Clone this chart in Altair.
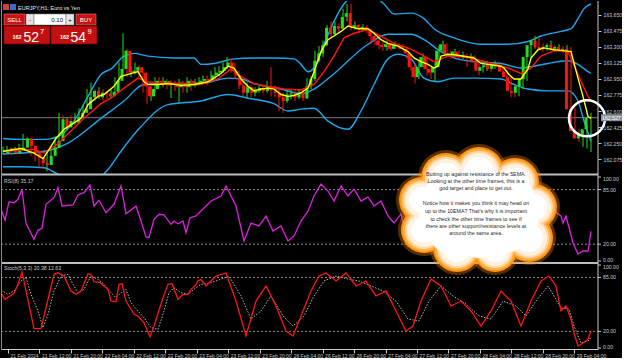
import altair as alt
import pandas as pd

# ---------------- data ----------------
close = [162.16, 162.19, 162.14, 162.17, 162.20, 162.30, 162.22, 162.14, 162.09, 162.03,
         162.01, 162.11, 162.20, 162.27, 162.51, 162.42, 162.49, 162.47, 162.53, 162.58,
         162.62, 162.75, 162.82, 162.75, 162.80, 162.79, 162.76, 162.81, 162.93, 163.06,
         163.26, 163.02, 163.04, 163.08, 163.02, 162.87, 162.76, 162.84, 162.93, 162.91,
         162.93, 162.88, 162.88, 162.86, 162.91, 162.86, 162.93, 162.88, 162.91, 162.93,
         162.95, 162.93, 162.99, 163.02, 163.04, 163.08, 163.13, 163.04, 162.99, 162.88,
         162.80, 162.86, 162.80, 162.82, 162.85, 162.82, 162.86, 162.84, 162.80, 162.75,
         162.71, 162.78, 162.79, 162.75, 162.80, 162.74, 162.87, 162.95, 163.15, 163.23,
         163.32, 163.51, 163.44, 163.53, 163.50, 163.63, 163.67, 163.52, 163.54, 163.50,
         163.52, 163.49, 163.42, 163.37, 163.32, 163.30, 163.33, 163.28, 163.32, 163.31,
         163.28, 163.23, 163.08, 162.97, 163.08, 163.19, 163.06, 163.02, 163.08, 163.26,
         163.33, 163.23, 163.21, 163.25, 163.20, 163.21, 163.18, 163.20, 163.13, 163.04,
         163.08, 163.10, 163.06, 163.11, 163.09, 163.03, 162.97, 162.82, 162.80, 162.87,
         162.95, 163.19, 163.32, 163.37, 163.30, 163.28, 163.30, 163.32, 163.28, 163.30,
         163.27, 163.28, 162.62, 162.38, 162.30, 162.35, 162.40, 162.527]
high = [162.21, 162.22, 162.20, 162.21, 162.24, 162.35, 162.32, 162.24, 162.16, 162.11,
        162.05, 162.14, 162.22, 162.32, 162.58, 162.55, 162.53, 162.55, 162.58, 162.63,
        162.67, 162.84, 162.91, 162.84, 162.86, 162.84, 162.82, 162.84, 162.97, 163.13,
        163.45, 163.28, 163.09, 163.13, 163.10, 163.06, 162.93, 162.87, 162.97, 162.97,
        162.97, 162.95, 162.93, 162.93, 162.95, 162.93, 162.97, 162.95, 162.95, 162.97,
        162.99, 162.99, 163.04, 163.08, 163.09, 163.13, 163.19, 163.17, 163.13, 163.04,
        162.93, 162.91, 162.88, 162.86, 162.88, 162.88, 162.93, 163.08, 162.88, 162.84,
        162.80, 162.82, 162.84, 162.82, 162.84, 162.84, 162.96, 162.98, 163.26, 163.31,
        163.37, 163.54, 163.58, 163.58, 163.56, 163.72, 163.77, 163.77, 163.58, 163.55,
        163.55, 163.54, 163.50, 163.44, 163.39, 163.36, 163.37, 163.34, 163.36, 163.34,
        163.33, 163.30, 163.23, 163.13, 163.15, 163.23, 163.19, 163.08, 163.13, 163.31,
        163.37, 163.34, 163.26, 163.28, 163.26, 163.25, 163.23, 163.23, 163.21, 163.14,
        163.11, 163.15, 163.13, 163.15, 163.14, 163.09, 163.05, 162.97, 162.88, 162.93,
        162.99, 163.23, 163.37, 163.42, 163.40, 163.34, 163.34, 163.37, 163.32, 163.33,
        163.31, 163.32, 163.30, 162.64, 162.40, 162.38, 162.44, 162.58]
low = [162.12, 162.14, 162.12, 162.13, 162.15, 162.19, 162.20, 162.11, 162.05, 161.99,
       161.97, 161.94, 162.09, 162.17, 162.25, 162.39, 162.40, 162.44, 162.45, 162.50,
       162.55, 162.60, 162.71, 162.71, 162.73, 162.71, 162.73, 162.74, 162.80, 162.91,
       163.04, 162.97, 162.97, 163.00, 162.97, 162.80, 162.68, 162.71, 162.80, 162.86,
       162.86, 162.84, 162.74, 162.82, 162.69, 162.80, 162.80, 162.82, 162.86, 162.88,
       162.91, 162.88, 162.93, 162.95, 162.98, 163.02, 163.06, 163.02, 162.95, 162.84,
       162.76, 162.75, 162.75, 162.76, 162.80, 162.79, 162.80, 162.76, 162.75, 162.60,
       162.58, 162.69, 162.73, 162.71, 162.73, 162.71, 162.73, 162.84, 162.93, 163.13,
       163.19, 163.31, 163.40, 163.42, 163.45, 163.50, 163.58, 163.48, 163.49, 163.46,
       163.48, 163.45, 163.33, 163.32, 163.28, 163.26, 163.26, 163.26, 163.28, 163.27,
       163.26, 163.17, 163.04, 162.90, 162.95, 163.08, 162.99, 162.95, 162.93, 163.08,
       163.23, 163.19, 163.17, 163.19, 163.17, 163.17, 163.08, 163.15, 163.08, 162.99,
       163.02, 163.04, 163.03, 163.06, 163.05, 163.00, 162.93, 162.75, 162.75, 162.76,
       162.84, 162.93, 163.17, 163.28, 163.28, 163.25, 163.26, 163.27, 163.25, 163.26,
       163.23, 163.25, 162.58, 162.30, 162.26, 162.21, 162.19, 162.15]
first_open = 162.14

yellow_i = [0, 4.5, 7.75, 10, 11.25, 13.25, 15.25, 17.75, 19.5, 21.25, 23.75, 25.25, 27.75, 29.5, 31.25,
            33.75, 35.25, 36.25, 38.75, 41.25, 44.5, 47.75, 51.25, 54.5, 56.25, 57.75, 59.5, 61.25, 62.75,
            64.5, 66.25, 67.75, 69.5, 71.25, 72.75, 74.5, 76.25, 77.75, 79.5, 81.25, 82.75, 84.5, 86.25,
            88.75, 91.25, 92.75, 94.5, 96.25, 98.75, 101.25, 102.75, 104.5, 106.25, 107.75, 108.75, 109.5,
            111.25, 113.75, 116.25, 117.75, 119.5, 121.25, 122.75, 124.5, 125.25, 126.5, 127.75, 129.5,
            131.25, 132, 133.75, 135.25, 137.75, 140.25, 142, 143.75, 145, 146.25, 147]
yellow_p = [162.16, 162.19, 162.14, 162.08, 162.16, 162.30, 162.40, 162.47, 162.52, 162.67, 162.76, 162.78,
            162.87, 162.98, 163.00, 163.03, 162.92, 162.89, 162.89, 162.90, 162.88, 162.89, 162.92, 163.01,
            163.09, 163.07, 162.95, 162.87, 162.82, 162.84, 162.85, 162.84, 162.78, 162.76, 162.77, 162.80,
            162.85, 163.03, 163.25, 163.38, 163.42, 163.47, 163.53, 163.50, 163.50, 163.45, 163.38, 163.34,
            163.31, 163.25, 163.18, 163.14, 163.11, 163.07, 163.09, 163.20, 163.22, 163.21, 163.19, 163.18,
            163.12, 163.11, 163.10, 163.09, 163.07, 163.00, 162.95, 162.95, 163.06, 163.18, 163.27, 163.29,
            163.27, 163.26, 163.25, 162.96, 162.76, 162.54, 162.52]
red_i = [0, 7.75, 10.25, 13.75, 16.25, 20.25, 24.5, 27, 30.25, 33.75, 36.25, 39.5, 43.75, 49.5, 53.75, 57,
         59.5, 62.75, 66.25, 70.25, 74.5, 77.75, 80.25, 82.75, 85.25, 87.75, 91.25, 94.5, 97.75, 101.25,
         104.5, 107.75, 111.25, 116.25, 121.25, 126.25, 129.5, 132, 134.5, 137.75, 141.25, 143.75, 146.25, 147]
red_p = [162.16, 162.18, 162.14, 162.24, 162.35, 162.52, 162.68, 162.74, 162.85, 162.96, 162.92, 162.90,
         162.90, 162.89, 162.95, 163.06, 162.98, 162.90, 162.87, 162.84, 162.83, 162.89, 163.03, 163.20,
         163.40, 163.45, 163.49, 163.42, 163.34, 163.29, 163.22, 163.14, 163.20, 163.19, 163.13, 163.07,
         163.01, 163.07, 163.20, 163.26, 163.25, 163.00, 162.76, 162.71]
upper_i = [0, 4.5, 10.25, 14.5, 17.75, 21.25, 24.5, 27, 30.25, 32.75, 36.25, 42.75, 47.75, 49.5, 52.75,
           57.75, 62.75, 67.75, 72.75, 74.5, 76.25, 77.75, 80.25, 82.75, 85.25, 90.25, 95.25, 97.75, 102,
           105.25, 107.75, 112.75, 119.5, 126.25, 131.25, 134.5, 139.5, 142, 143.75, 145.25, 147]
upper_p = [162.30, 162.29, 162.29, 162.34, 162.49, 162.76, 163.00, 163.06, 163.20, 163.23, 163.20, 163.18,
           163.18, 163.11, 163.12, 163.17, 163.18, 163.18, 163.17, 163.11, 163.03, 163.07, 163.33, 163.58,
           163.77, 163.91, 163.77, 163.66, 163.67, 163.61, 163.50, 163.40, 163.33, 163.33, 163.36, 163.42,
           163.47, 163.50, 163.61, 163.72, 163.77]
mid_i = [0, 4.5, 10.25, 16.25, 24.5, 30.25, 35.25, 42.75, 49.5, 56.25, 59.5, 62.75, 69.5, 74.5, 77.75, 82,
         91.25, 96.25, 102, 105.25, 109.5, 112.75, 117.75, 124.5, 129.5, 132.75, 136.25, 141.25, 143.75,
         146.25, 147]
mid_p = [162.13, 162.14, 162.16, 162.25, 162.52, 162.71, 162.89, 162.90, 162.90, 162.96, 162.95, 162.90,
         162.84, 162.79, 162.84, 162.98, 163.33, 163.44, 163.44, 163.38, 163.25, 163.18, 163.14, 163.12,
         163.07, 163.09, 163.12, 163.15, 163.11, 163.03, 163.01]
lower_i = [0, 4.5, 10.25, 13.25, 18.25, 23.25, 26.25, 29.5, 34.5, 41.25, 49.5, 56.25, 61.25, 67.75, 71.25,
           74.5, 77.75, 81.25, 86.25, 89.5, 92.75, 96.25, 98.75, 102, 105.25, 108.75, 112.75, 118.75, 124.5,
           127.75, 131.25, 136.25, 141.25, 143.75, 145.25, 147]
lower_p = [161.99, 161.99, 161.98, 161.92, 161.83, 161.85, 161.96, 162.16, 162.43, 162.67, 162.71, 162.78,
           162.74, 162.68, 162.60, 162.62, 162.63, 162.49, 162.40, 162.60, 162.89, 163.17, 163.22, 163.17,
           162.96, 162.92, 162.96, 162.96, 162.95, 162.89, 162.84, 162.82, 162.82, 162.71, 162.49, 162.27]

rsi_i = [-0.5, 0.5, 1.5, 2.75, 3.75, 4.75, 5.75, 7.75, 8.75, 9.75, 10.75, 12.75, 13.75, 14.75, 17.5, 18.75,
         20.25, 21.75, 22.75, 24, 25.75, 27.75, 29.5, 30.75, 33.25, 34.5, 35.75, 36.5, 37.75, 39, 40.25, 42,
         42.75, 43.75, 45, 45.75, 46.75, 48.25, 49.5, 52, 54.5, 55.75, 58.25, 60.25, 62, 64, 65.75, 67.5,
         69.5, 71.25, 72.75, 74.5, 76.25, 77.75, 79.5, 81.25, 82.75, 84.5, 86.25, 87.75, 89.5, 91.25, 92.75,
         94.5, 96.25, 97.75, 99.5, 101.25, 102.75, 104.5, 109.5, 114.5, 119.5, 124.5, 127, 129.5, 132,
         134.5, 137.75, 139.5, 140, 140.75, 142.5, 143.75, 145, 146.25, 147]
rsi_v = [61.5, 48.5, 70.6, 69.4, 73.5, 85.4, 44.9, 25.8, 36.5, 38.9, 67.5, 75.4, 87.3, 65.5, 66.7, 78.6,
         81.3, 90.5, 65.5, 72.3, 57.5, 67.5, 89.3, 56.3, 65.5, 47.6, 28.6, 27.7, 49.6, 55.6, 54.8, 43.7,
         47.6, 44.4, 47.6, 33.7, 51.5, 53.6, 59.5, 71.4, 77.4, 89.3, 65.5, 23.8, 45.2, 41.7, 53.6, 35.7,
         41.7, 23.8, 29.8, 47.6, 59.5, 77.4, 91.7, 83.3, 71.4, 89.3, 77.4, 85.7, 71.4, 76.2, 65.5, 71.4,
         53.6, 45.2, 56.0, 17.9, 23.8, 41.7, 65.5, 53.6, 45.2, 41.7, 29.8, 26.2, 53.6, 71.4, 59.5, 53.6,
         45.2, 53.6, 21.4, 8.3, 11.9, 11.9, 35.17]
stoch_i = [-0.5, 0.5, 2.75, 3.75, 4.75, 5.75, 7.75, 9.5, 10.75, 12.75, 13.75, 15.25, 17, 18.25, 19.5, 21.25,
           22, 22.75, 24.25, 26.25, 27, 28.25, 29, 29.75, 30.75, 32.75, 33.75, 35.25, 36.75, 37.75, 40,
           41.25, 42.25, 43.75, 45, 46.25, 47, 48, 48.75, 49.5, 50.75, 53.25, 55.75, 58.25, 60.75, 63.25,
           65.75, 68.25, 70.75, 72.5, 74.5, 77, 79, 80.75, 83.25, 85.75, 88.25, 90.75, 93.25, 95.75, 98.25,
           100.75, 102.5, 104.5, 107, 109.5, 112, 114.5, 117, 119.5, 122, 124.5, 127, 129.5, 132, 134.5,
           136.5, 138.25, 139.5, 140.75, 142, 142.75, 143.75, 145, 146.25, 147]
stoch_v = [66.6, 58.7, 65.9, 76.7, 91.9, 68.7, 23.3, 23.3, 48.6, 88.8, 90.7, 86.7, 68.7, 64.7, 68.7, 89.5,
           88.8, 79.9, 78.7, 70.7, 56.6, 55.8, 76.7, 77.5, 56.6, 40.6, 38.6, 30.5, 13.6, 26.5, 60.6, 76.7,
           77.5, 58.7, 64.7, 64.7, 70.7, 74.7, 80.7, 82.8, 74.7, 86.7, 90.4, 56.6, 14.5, 56.6, 74.7, 50.6,
           20.5, 14.5, 38.6, 68.7, 86.7, 90.4, 80.7, 90.4, 74.7, 80.7, 62.7, 68.7, 44.6, 20.5, 26.5, 56.6,
           83.1, 74.7, 50.6, 56.6, 44.6, 26.5, 44.6, 68.7, 56.6, 26.5, 56.6, 80.7, 86.7, 74.7, 44.6, 50.6,
           34.9, 18.1, 2.4, 6.0, 10.8, 20.38]
signal_i = [-0.5, 1.25, 2.75, 4.5, 5.75, 7, 8.75, 10, 11.25, 12.75, 14.5, 16.25, 17.5, 18.75, 20.25, 22,
            23.75, 25.25, 27, 28.25, 29.5, 30.75, 32, 33.75, 35.25, 37, 38.75, 40.25, 41.5, 42.75, 44.5,
            46.25, 47.75, 49.5, 50.75, 53.25, 56.5, 59.5, 62, 64.5, 67, 70, 72.5, 75.25, 77.75, 80.25, 83.25,
            86.25, 89, 92, 95, 98.25, 101.25, 104, 106.5, 109.5, 112.5, 115.75, 119, 122, 125, 128.25,
            130.75, 133.25, 136.25, 139.5, 141.5, 142.75, 144.5, 146.25, 147]
signal_v = [69.5, 64.7, 68.7, 80.7, 84.7, 64.7, 44.6, 24.5, 40.6, 68.7, 86.7, 88.8, 76.7, 66.6, 70.7, 86.7,
            82.8, 76.7, 66.6, 60.6, 66.6, 70.7, 54.6, 44.6, 36.5, 24.5, 22.5, 44.6, 66.6, 72.7, 66.6, 64.7,
            70.7, 76.7, 77, 80.7, 86.7, 62.7, 34.9, 44.6, 62.7, 38.6, 26.5, 38.6, 62.7, 80.7, 86.7, 83.1,
            80.7, 74.7, 68.7, 56.6, 34.9, 32.5, 56.6, 74.7, 62.7, 53.0, 38.6, 34.9, 56.6, 50.6, 38.6, 56.6,
            74.7, 48.2, 47.0, 26.5, 6.0, 8.4, 12.63]

price_ticks = [163.650, 163.475, 163.300, 163.125, 162.950, 162.775, 162.600, 162.425, 162.250, 162.075]
time_ticks = list(range(0, 145, 8))
time_labels = ['21 Feb 2024', '21 Feb 12:00', '21 Feb 20:00', '22 Feb 04:00', '22 Feb 12:00',
               '22 Feb 20:00', '23 Feb 04:00', '23 Feb 12:00', '23 Feb 20:00', '26 Feb 04:00',
               '26 Feb 12:00', '26 Feb 20:00', '27 Feb 04:00', '27 Feb 12:00', '27 Feb 20:00',
               '28 Feb 04:00', '28 Feb 12:00', '28 Feb 20:00', '29 Feb 04:00']
level_mid_vals = [85, 20]
level_mid_labels = ['85.00', '20.00']
level_top, level_top_label = 100, '100.00'
level_bot, level_bot_label = 0, '0.00'
bid = 162.527
ring_i = [146]
ring_p = [162.52]

note_lines = ["Butting up against resistance of the 5EMA.",
              "Looking at the other time frames, this is a",
              "god target and place to get out.",
              "Notice how it makes you think it may head on",
              "up to the 10EMA? That's why it is important",
              "to check the other time frames to see if",
              "there are other support/resistance levels at",
              "around the same area."]

# ---------------- styling ----------------
W, H = 597, 348
GREEN, RED, BLUE, YEL, MAG = '#22dd22', '#ff1414', '#1ea6ea', '#ffff00', '#e020e0'
AXC = '#c8c8c8'
FONT = 'Liberation Sans'
one = pd.DataFrame({'a': [0]})

xs = alt.Scale(domain=[-0.5, 148.75], range=[0, W], nice=False, zero=False)
ps = alt.Scale(domain=[161.922, 163.792], range=[172, 1], nice=False, zero=False)
rs = alt.Scale(domain=[0, 100], range=[260, 176], nice=False, zero=False)
ss = alt.Scale(domain=[0, 100], range=[347, 264], nice=False, zero=False)


def X():
    return alt.X('i:Q', scale=xs, axis=None)


def ldf(i, v):
    return pd.DataFrame({'i': i, 'v': v})


def line(i, v, scale, color, sw=1.4, interp='linear', dash=None):
    kw = dict(color=color, strokeWidth=sw, clip=True, interpolate=interp)
    if dash:
        kw['strokeDash'] = dash
    return alt.Chart(ldf(i, v)).mark_line(**kw).encode(x=X(), y=alt.Y('v:Q', scale=scale, axis=None))


def txt(s, x, y, size=5.2, color=AXC, align='left', baseline='middle', weight='normal', font=FONT):
    return alt.Chart(one).mark_text(text=s, align=align, baseline=baseline, fontSize=size, color=color,
                                    font=font, fontWeight=weight).encode(x=alt.value(x), y=alt.value(y))


def box(x0, y0, x1, y1, fill, stroke=None, sw=0.6):
    kw = dict(fill=fill)
    if stroke:
        kw.update(stroke=stroke, strokeWidth=sw)
    return alt.Chart(one).mark_rect(**kw).encode(x=alt.value(x0), x2=alt.value(x1),
                                                 y=alt.value(y0), y2=alt.value(y1))


def hrule(y, color, sw=1, x0=0, x1=W):
    return alt.Chart(one).mark_rule(color=color, strokeWidth=sw).encode(
        x=alt.value(x0), x2=alt.value(x1), y=alt.value(y))


def vrule(x, color, sw=1, y0=0, y1=H):
    return alt.Chart(one).mark_rule(color=color, strokeWidth=sw).encode(
        x=alt.value(x), y=alt.value(y0), y2=alt.value(y1))


# ---------------- candles ----------------
n = len(close)
opens = [first_open] + close[:-1]
candles = pd.DataFrame({'i': list(range(n)), 'open': opens, 'close': close, 'high': high, 'low': low})
candles['high'] = candles[['high', 'open', 'close']].max(axis=1)
candles['low'] = candles[['low', 'open', 'close']].min(axis=1)
candles['dir'] = ['up' if c >= o else 'down' for o, c in zip(opens, close)]
cscale = alt.Scale(domain=['up', 'down'], range=[GREEN, RED])

label_expr = '[' + ','.join("'%s'" % t for t in time_labels) + '][round(datum.value/8)]'
x_axis = alt.Axis(values=time_ticks, labelExpr=label_expr, orient='bottom', labelAlign='left',
                  labelBaseline='top', labelOffset=2, labelPadding=0, labelFontSize=5,
                  labelFont=FONT, labelColor=AXC, tickColor=AXC, tickSize=4, domainColor=AXC,
                  labelOverlap=False, grid=False, title=None, labelFlush=False)
p_axis = alt.Axis(orient='right', values=price_ticks, format='.3f', labelFontSize=5.2, labelFont=FONT,
                  labelColor=AXC, tickColor=AXC, tickSize=3, domain=False, grid=False, title=None,
                  labelPadding=2, labelOverlap=False)

wicks = alt.Chart(candles).mark_rule(strokeWidth=1).encode(
    x=X(), y=alt.Y('low:Q', scale=ps, axis=None), y2='high:Q',
    color=alt.Color('dir:N', scale=cscale, legend=None))
bodies = alt.Chart(candles).mark_bar(size=3, strokeWidth=0).encode(
    x=alt.X('i:Q', scale=xs, axis=x_axis), y=alt.Y('open:Q', scale=ps, axis=p_axis), y2='close:Q',
    color=alt.Color('dir:N', scale=cscale, legend=None))

bid_df = pd.DataFrame({'p': [bid]})
bid_line = alt.Chart(bid_df).mark_rule(color='#7c7c7c', strokeWidth=1).encode(
    x=alt.value(0), x2=alt.value(W), y=alt.Y('p:Q', scale=ps, axis=None))
bid_box = alt.Chart(bid_df).mark_rect(fill='#8a919c', yOffset=-3.5, y2Offset=3.5).encode(
    x=alt.value(W + 3), x2=alt.value(W + 24), y=alt.Y('p:Q', scale=ps, axis=None), y2='p:Q')
bid_txt = alt.Chart(bid_df).mark_text(text='162.527', align='left', baseline='middle', fontSize=5.2,
                                      font=FONT, color='#ffffff').encode(
    x=alt.value(W + 4), y=alt.Y('p:Q', scale=ps, axis=None))

ring = alt.Chart(pd.DataFrame({'i': ring_i, 'v': ring_p})).mark_point(
    shape='circle', filled=False, color='#ffffff', strokeWidth=2.5, size=1300, opacity=1).encode(
    x=X(), y=alt.Y('v:Q', scale=ps, axis=None))

# ---------------- sub panels ----------------
mask = box(0, 173, W, H, '#000000')


def panel_axis(scale):
    mid = pd.DataFrame({'v': level_mid_vals, 'lab': level_mid_labels})
    ends = pd.DataFrame({'v': [level_top, level_bot]})
    dash = alt.Chart(mid).mark_rule(color='#8c8c8c', strokeDash=[2, 2], strokeWidth=1).encode(
        x=alt.value(0), x2=alt.value(W), y=alt.Y('v:Q', scale=scale, axis=None))
    ticks = alt.Chart(pd.concat([mid[['v']], ends])).mark_rule(color=AXC, strokeWidth=1).encode(
        x=alt.value(W), x2=alt.value(W + 3), y=alt.Y('v:Q', scale=scale, axis=None))
    labs = alt.Chart(mid).mark_text(align='left', baseline='middle', fontSize=5.2, font=FONT,
                                    color=AXC).encode(
        x=alt.value(W + 5), y=alt.Y('v:Q', scale=scale, axis=None), text='lab:N')
    top = alt.Chart(pd.DataFrame({'v': [level_top]})).mark_text(
        text=level_top_label, align='left', baseline='middle', fontSize=5.2, font=FONT, color=AXC,
        dy=1.5).encode(x=alt.value(W + 5), y=alt.Y('v:Q', scale=scale, axis=None))
    bot = alt.Chart(pd.DataFrame({'v': [level_bot]})).mark_text(
        text=level_bot_label, align='left', baseline='middle', fontSize=5.2, font=FONT, color=AXC,
        dy=-1.5).encode(x=alt.value(W + 5), y=alt.Y('v:Q', scale=scale, axis=None))
    return [dash, ticks, labs, top, bot]


# ---------------- trading widget ----------------
widget = [
    box(2, 3, 8, 9, '#d04040'), box(9, 3, 15, 9, '#3a6cc8'),
    txt('EURJPY,H1:  Euro vs Yen', 17, 6.5, size=5.5, color='#e8e8e8'),
    box(3, 13, 24, 24, '#c81414', '#f07a7a'), txt('SELL', 13.5, 18.8, size=6, color='#ffffff', align='center'),
    box(25, 13, 33, 24, '#e4e4e4', '#808080'), txt('-', 29, 18.5, size=6, color='#000000', align='center'),
    box(33, 13, 65, 24, '#ffffff', '#808080'), txt('0.10', 62, 18.8, size=6, color='#000000', align='right'),
    box(65, 13, 73, 24, '#e4e4e4', '#808080'), txt('+', 69, 18.5, size=6, color='#000000', align='center'),
    box(75, 13, 95, 24, '#c81414', '#f07a7a'), txt('BUY', 85, 18.8, size=6, color='#ffffff', align='center'),
    box(3, 25, 49, 43, '#c20f0f', '#7a0000'), box(50, 25, 96, 43, '#c20f0f', '#7a0000'),
    txt('162', 11.5, 38, size=5.5, color='#ffffff', baseline='alphabetic', weight='bold'),
    txt('52', 22.5, 40.5, size=14, color='#ffffff', baseline='alphabetic'),
    txt('7', 39, 33, size=7.5, color='#ffffff', baseline='alphabetic'),
    txt('162', 59, 38, size=5.5, color='#ffffff', baseline='alphabetic', weight='bold'),
    txt('54', 69.5, 40.5, size=14, color='#ffffff', baseline='alphabetic'),
    txt('9', 86.5, 33, size=7.5, color='#ffffff', baseline='alphabetic'),
]

# ---------------- cloud note (decoration, pixel placed) ----------------
# outer puffs
cx = [445, 478, 514, 533, 528, 494, 456, 423, 421]
cy = [177, 171, 181, 206, 237, 249, 247, 229, 199]
cr = [20, 20, 19, 18, 19, 17, 19, 18, 18]
# interior filler puffs (only white, so the inside is uniform)
fx = [478, 450, 506, 452, 504, 478, 440, 516]
fy = [208, 198, 200, 230, 228, 235, 215, 214]
fr = [40, 28, 28, 24, 24, 22, 22, 22]

cloud_layers = []
for d, col, op in [(8, '#ff8800', 0.35), (5, '#ff9410', 1.0), (3, '#ffb44e', 1.0), (1, '#ffd9a6', 1.0),
                   (-1, '#fff1de', 1.0), (-5, '#ffffff', 1.0)]:
    cdf = pd.DataFrame({'px': cx, 'py': cy, 's': [(2 * (r + d)) ** 2 for r in cr]})
    cloud_layers.append(alt.Chart(cdf).mark_circle(color=col, opacity=op).encode(
        x=alt.X('px:Q', scale=None, axis=None), y=alt.Y('py:Q', scale=None, axis=None),
        size=alt.Size('s:Q', scale=None, legend=None)))
fdf = pd.DataFrame({'px': fx, 'py': fy, 's': [(2 * r) ** 2 for r in fr]})
cloud_layers.append(alt.Chart(fdf).mark_circle(color='#ffffff', opacity=1).encode(
    x=alt.X('px:Q', scale=None, axis=None), y=alt.Y('py:Q', scale=None, axis=None),
    size=alt.Size('s:Q', scale=None, legend=None)))

note_y = [173, 180, 187, 202, 210, 218, 225, 232]
note_df = pd.DataFrame({'t': note_lines, 'py': note_y, 'px': [475] * len(note_y)})
note = alt.Chart(note_df).mark_text(align='center', baseline='middle', fontSize=5.3, font=FONT,
                                    color='#2a2a2a').encode(
    x=alt.X('px:Q', scale=None, axis=None), y=alt.Y('py:Q', scale=None, axis=None), text='t:N')

layers = [
    bid_line,
    line(upper_i, upper_p, ps, BLUE, 1.4, 'monotone'),
    line(mid_i, mid_p, ps, BLUE, 1.4, 'monotone'),
    line(lower_i, lower_p, ps, BLUE, 1.4, 'monotone'),
    wicks, bodies,
    line(red_i, red_p, ps, RED, 1.4),
    line(yellow_i, yellow_p, ps, YEL, 1.4),
    mask,
    hrule(173.5, '#bdbdbd', 2), hrule(262, '#bdbdbd', 2),
] + panel_axis(rs) + panel_axis(ss) + [
    line(rsi_i, rsi_v, rs, MAG, 1.3),
    line(signal_i, signal_v, ss, '#b8b8b8', 1, dash=[1.5, 1.5]),
    line(stoch_i, stoch_v, ss, RED, 1.3),
    txt('RSI(8) 35.17', 3, 179.5, size=5.2),
    txt('Stoch(5,3,3) 20.38  12.63', 3, 266.5, size=5.2),
    vrule(W, AXC, 1), vrule(0.5, '#8a8a8a', 1),
    ring, bid_box, bid_txt,
] + widget + cloud_layers + [note]

chart = alt.layer(*layers).resolve_scale(
    x='independent', y='independent', color='independent', size='independent'
).properties(width=W, height=H, padding=0).configure(background='#000000').configure_view(stroke=None)

chart.save("out.html", embed_options={"renderer": "svg", "actions": False})
